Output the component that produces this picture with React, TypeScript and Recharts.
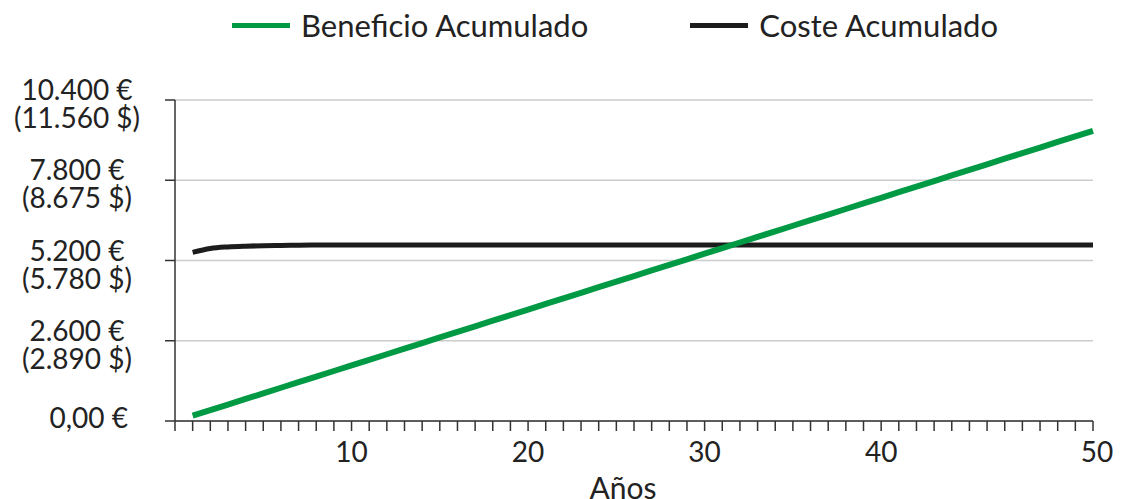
import { CartesianGrid, Line, LineChart, XAxis, YAxis } from 'recharts'

// Años 1..52 (el eje llega hasta 52, la última etiqueta dice "50")
const years = [
  1, 2, 3, 4, 5, 6, 7, 8, 9, 10, 11, 12, 13, 14, 15, 16, 17, 18, 19, 20, 21, 22, 23, 24, 25, 26,
  27, 28, 29, 30, 31, 32, 33, 34, 35, 36, 37, 38, 39, 40, 41, 42, 43, 44, 45, 46, 47, 48, 49, 50,
  51, 52,
]

const beneficio = [
  172, 353, 534, 715, 896, 1077, 1258, 1439, 1620, 1801, 1982, 2163, 2344, 2525, 2706, 2887, 3068,
  3249, 3430, 3611, 3792, 3973, 4154, 4335, 4516, 4697, 4878, 5059, 5240, 5421, 5602, 5783, 5964,
  6145, 6326, 6507, 6688, 6869, 7050, 7231, 7412, 7593, 7774, 7955, 8136, 8317, 8498, 8679, 8860,
  9041, 9222, 9403,
]

const coste = [
  5465, 5590, 5640, 5665, 5680, 5690, 5695, 5700, 5700, 5700, 5700, 5700, 5700, 5700, 5700, 5700,
  5700, 5700, 5700, 5700, 5700, 5700, 5700, 5700, 5700, 5700, 5700, 5700, 5700, 5700, 5700, 5700,
  5700, 5700, 5700, 5700, 5700, 5700, 5700, 5700, 5700, 5700, 5700, 5700, 5700, 5700, 5700, 5700,
  5700, 5700, 5700, 5700,
]

const yTicks = [0, 2600, 5200, 7800, 10400]
const yTickLabels = [
  ['0,00 €'],
  ['2.600 €', '(2.890 $)'],
  ['5.200 €', '(5.780 $)'],
  ['7.800 €', '(8.675 $)'],
  ['10.400 €', '(11.560 $)'],
]

const xTicks = [
  0, 1, 2, 3, 4, 5, 6, 7, 8, 9, 10, 11, 12, 13, 14, 15, 16, 17, 18, 19, 20, 21, 22, 23, 24, 25, 26,
  27, 28, 29, 30, 31, 32, 33, 34, 35, 36, 37, 38, 39, 40, 41, 42, 43, 44, 45, 46, 47, 48, 49, 50,
  51, 52,
]
const xLabelTicks = [10, 20, 30, 40, 52]
const xLabels = ['10', '20', '30', '40', '50']

const data = years.map((year, i) => ({ year, beneficio: beneficio[i], coste: coste[i] }))

const GREEN = '#009a44'
const BLACK = '#1c1c1c'
const TEXT = '#222'
const FONT = 'Lato, "Open Sans", sans-serif'

function YTick({ y, payload }: any) {
  const lines = yTickLabels[yTicks.indexOf(payload.value)] || []
  if (lines.length === 1) {
    return (
      <text x={128} y={y + 7} textAnchor="end" fill={TEXT} fontSize={28} fontFamily={FONT}>
        {lines[0]}
      </text>
    )
  }
  return (
    <text x={77} y={y} textAnchor="middle" fill={TEXT} fontSize={28} fontFamily={FONT}>
      <tspan x={77} y={y}>{lines[0]}</tspan>
      <tspan x={77} y={y + 28}>{lines[1]}</tspan>
    </text>
  )
}

function XTick({ x, payload }: any) {
  const idx = xLabelTicks.indexOf(payload.value)
  if (idx < 0) return null
  return (
    <text x={x + (idx === 4 ? 4 : 0)} y={462} textAnchor="middle" fill={TEXT} fontSize={28} fontFamily={FONT}>
      {xLabels[idx]}
    </text>
  )
}

function LegendItem({ color, label }: { color: string; label: string }) {
  return (
    <div style={{ display: 'flex', alignItems: 'center' }}>
      <div style={{ width: 58, height: 5, background: color, marginRight: 11 }} />
      <span style={{ fontSize: 31, color: TEXT, fontFamily: FONT }}>{label}</span>
    </div>
  )
}

export default function App() {
  return (
    <div style={{ position: 'absolute', left: 0, top: 0, width: 1121, height: 499, background: '#fff' }}>
      <div
        style={{
          position: 'absolute',
          left: 232,
          top: 6,
          display: 'flex',
          gap: 102,
          lineHeight: '38px',
        }}
      >
        <LegendItem color={GREEN} label="Beneficio Acumulado" />
        <LegendItem color={BLACK} label="Coste Acumulado" />
      </div>
      <LineChart
        width={1121}
        height={499}
        data={data}
        margin={{ top: 100, right: 28, bottom: 0, left: 75 }}
      >
        <CartesianGrid horizontal vertical={false} stroke="#cccccc" strokeWidth={1.5} />
        <XAxis
          dataKey="year"
          type="number"
          domain={[0, 52]}
          ticks={xTicks}
          interval={0}
          height={78}
          tick={<XTick />}
          tickSize={10}
          tickLine={{ stroke: '#333', strokeWidth: 1.5 }}
          axisLine={{ stroke: '#333', strokeWidth: 1.5 }}
          label={{
            value: 'Años',
            position: 'insideBottom',
            offset: 0,
            dx: -11,
            fill: TEXT,
            fontSize: 30,
            fontFamily: FONT,
          }}
        />
        <YAxis
          type="number"
          domain={[0, 10400]}
          ticks={yTicks}
          interval={0}
          width={100}
          tick={<YTick />}
          tickSize={10}
          tickLine={{ stroke: '#333', strokeWidth: 1.5 }}
          axisLine={{ stroke: '#333', strokeWidth: 1.5 }}
        />
        <Line
          dataKey="coste"
          stroke={BLACK}
          strokeWidth={5}
          dot={false}
          type="monotone"
          isAnimationActive={false}
        />
        <Line
          dataKey="beneficio"
          stroke={GREEN}
          strokeWidth={6}
          dot={false}
          type="linear"
          isAnimationActive={false}
        />
      </LineChart>
    </div>
  )
}
